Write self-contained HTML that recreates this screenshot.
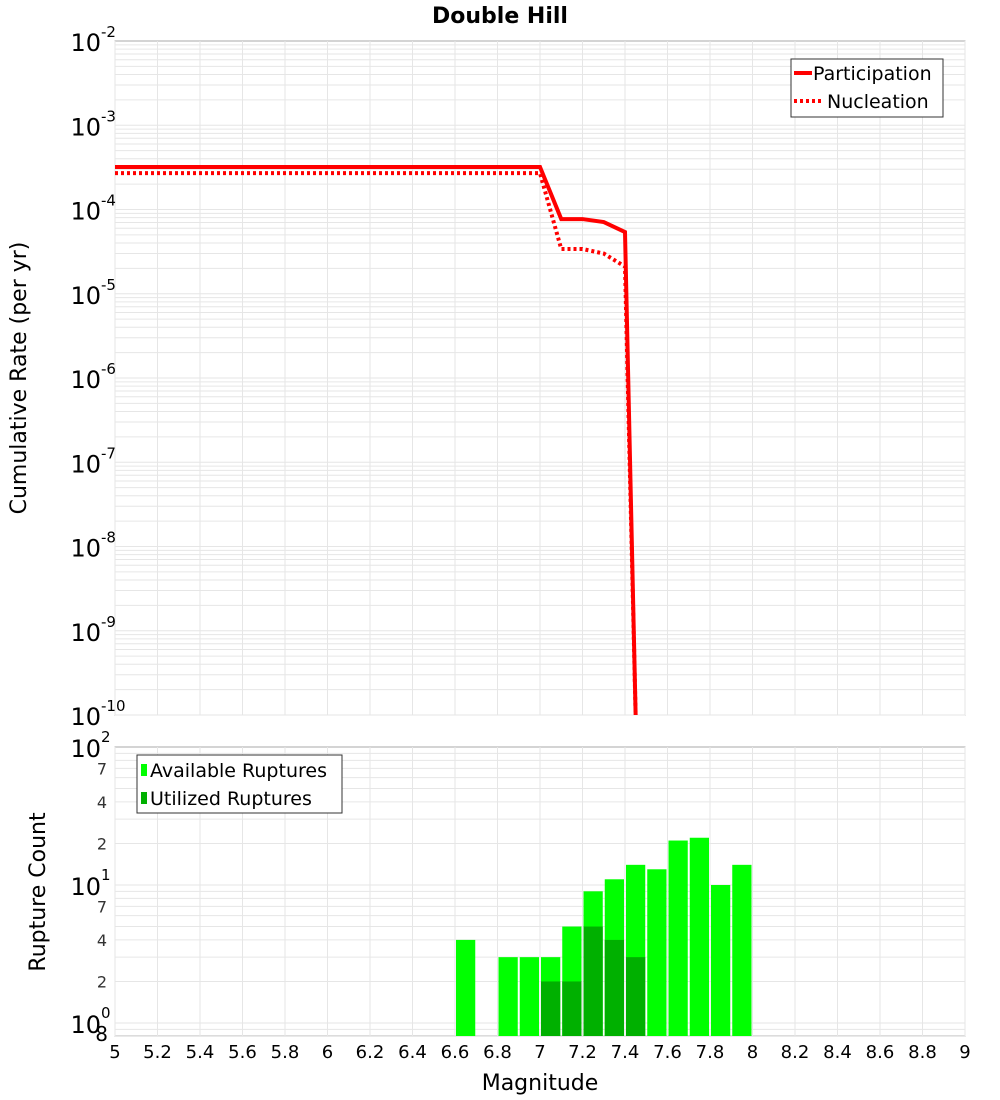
<!DOCTYPE html>
<html><head><meta charset="utf-8"><style>body{margin:0;background:#fff}svg{display:block;font-family:"DejaVu Sans","Liberation Sans",sans-serif}</style></head>
<body>
<svg id="c" width="1000" height="1100"></svg>
<script>
const mags=[5,7.0,7.1,7.2,7.3,7.4,7.45];
const partVals=[3.2e-4,3.2e-4,7.7e-5,7.7e-5,7.1e-5,5.4e-5,1e-10];
const nuclVals=[2.7e-4,2.7e-4,3.4e-5,3.4e-5,3.0e-5,2.1e-5,1e-10];
const binStarts=[6.6,6.8,6.9,7.0,7.1,7.2,7.3,7.4,7.5,7.6,7.7,7.8,7.9];
const availCounts=[4,3,3,3,5,9,11,14,13,21,22,10,14];
const utilStarts=[7.0,7.1,7.2,7.3,7.4];
const utilCounts=[2,2,5,4,3];
const xTicks=[5,5.2,5.4,5.6,5.8,6,6.2,6.4,6.6,6.8,7,7.2,7.4,7.6,7.8,8,8.2,8.4,8.6,8.8,9];
const topExps=[-2,-3,-4,-5,-6,-7,-8,-9,-10];

const S=document.getElementById('c');const NS='http://www.w3.org/2000/svg';
function el(t,a,p){const e=document.createElementNS(NS,t);for(const k in a)e.setAttribute(k,a[k]);(p||S).appendChild(e);return e;}
const X0=115,X1=965;const x=m=>X0+(m-5)/4*(X1-X0);
const T0=41,T1=715;const yT=v=>T0+(-2-Math.log10(v))/8*(T1-T0);
const B0=747,B1=1036;const yB=v=>B0+(2-Math.log10(v))*138;

// frames
const gt=el('g',{});  
el('rect',{x:X0,y:T0,width:X1-X0,height:T1-T0,fill:'#fff',stroke:'#aaa'},gt);
for(let e=-10;e<-2;e++)for(let k=1;k<10;k++){const yy=yT(k*Math.pow(10,e));el('line',{x1:X0,x2:X1,y1:yy,y2:yy,stroke:'#e6e6e6'},gt);}
xTicks.forEach(t=>el('line',{x1:x(t),x2:x(t),y1:T0,y2:T1,stroke:'#e6e6e6'},gt));
const gb=el('g',{});  
el('rect',{x:X0,y:B0,width:X1-X0,height:B1-B0,fill:'#fff',stroke:'#aaa'},gb);
[0.8,0.9,1,2,3,4,5,6,7,8,9,10,20,30,40,50,60,70,80,90].forEach(v=>{const yy=yB(v);el('line',{x1:X0,x2:X1,y1:yy,y2:yy,stroke:'#e6e6e6'},gb);});
xTicks.forEach(t=>el('line',{x1:x(t),x2:x(t),y1:B0,y2:B1,stroke:'#e6e6e6'},gb));

// title
const ti=el('text',{x:500,y:23,'text-anchor':'middle','font-size':22,'font-weight':'bold'});ti.textContent='Double Hill';


// top lines
const clip=el('clipPath',{id:'cp'});el('rect',{x:X0,y:T0,width:X1-X0,height:T1-T0},clip);
function pts(v){return mags.map((m,i)=>x(m)+','+yT(v[i])).join(' ');}
const pl=el('polyline',{points:pts(partVals),fill:'none',stroke:'#f00','stroke-width':4,'clip-path':'url(#cp)'});

const nl=el('polyline',{points:pts(nuclVals),fill:'none',stroke:'#f00','stroke-width':4,'stroke-dasharray':'3,3','clip-path':'url(#cp)'});


// top y labels
topExps.forEach(e=>{const yy=yT(Math.pow(10,e));const t=el('text',{x:101,y:yy+10,'text-anchor':'end','font-size':24});t.textContent='10';
const s=el('text',{x:101,y:yy-4,'font-size':15});s.textContent=String(e);
});
const yt=el('text',{transform:'translate(26,378) rotate(-90)','text-anchor':'middle','font-size':22});yt.textContent='Cumulative Rate (per yr)';


// bars
const w=x(5.1)-x(5);
binStarts.forEach((m,i)=>{const r=el('rect',{x:x(m)+1,y:yB(availCounts[i]),width:w-2,height:B1-yB(availCounts[i]),fill:'#00ff00'},gb);
});
utilStarts.forEach((m,i)=>{const r=el('rect',{x:x(m)+1,y:yB(utilCounts[i]),width:w-2,height:B1-yB(utilCounts[i]),fill:'#00b000'},gb);
});

// bottom y labels
[[100,'10','2'],[10,'10','1'],[1,'10','0']].forEach(a=>{const yy=yB(a[0]);const t=el('text',{x:101,y:yy+10,'text-anchor':'end','font-size':24});t.textContent=a[1];
const s=el('text',{x:101,y:yy-5,'font-size':15});s.textContent=a[2];});
[7,4,2,70,40,20].forEach(v=>{const t=el('text',{x:107,y:yB(v)+6,'text-anchor':'end','font-size':16,fill:'#333'});t.textContent=String(v>9?v/10:v);});
const e8=el('text',{x:108,y:1041,'text-anchor':'end','font-size':20});e8.textContent='8';
const byt=el('text',{transform:'translate(45,892) rotate(-90)','text-anchor':'middle','font-size':22});byt.textContent='Rupture Count';


// x ticks
xTicks.forEach(t=>{const tx=el('text',{x:x(t),y:1058,'text-anchor':'middle','font-size':18});tx.textContent=String(t);
});
const xt=el('text',{x:540,y:1090,'text-anchor':'middle','font-size':22});xt.textContent='Magnitude';


// legends
const lg=el('g',{});
el('rect',{x:791,y:59,width:152,height:58,fill:'#fff',stroke:'#333'},lg);
el('line',{x1:794,x2:812,y1:73,y2:73,stroke:'#f00','stroke-width':4},lg);
el('line',{x1:794,x2:824,y1:101,y2:101,stroke:'#f00','stroke-width':4,'stroke-dasharray':'3,3'},lg);
let t=el('text',{x:813,y:80,'font-size':19},lg);t.textContent='Participation';
t=el('text',{x:827,y:108,'font-size':19},lg);t.textContent='Nucleation';
const lb=el('g',{});
el('rect',{x:137,y:755,width:205,height:58,fill:'#fff',stroke:'#333'},lb);
el('rect',{x:141,y:764,width:6,height:12,fill:'#00ff00'},lb);
el('rect',{x:141,y:792,width:6,height:12,fill:'#00b000'},lb);
t=el('text',{x:150,y:777,'font-size':19},lb);t.textContent='Available Ruptures';
t=el('text',{x:150,y:805,'font-size':19},lb);t.textContent='Utilized Ruptures';
</script>
</body></html>
